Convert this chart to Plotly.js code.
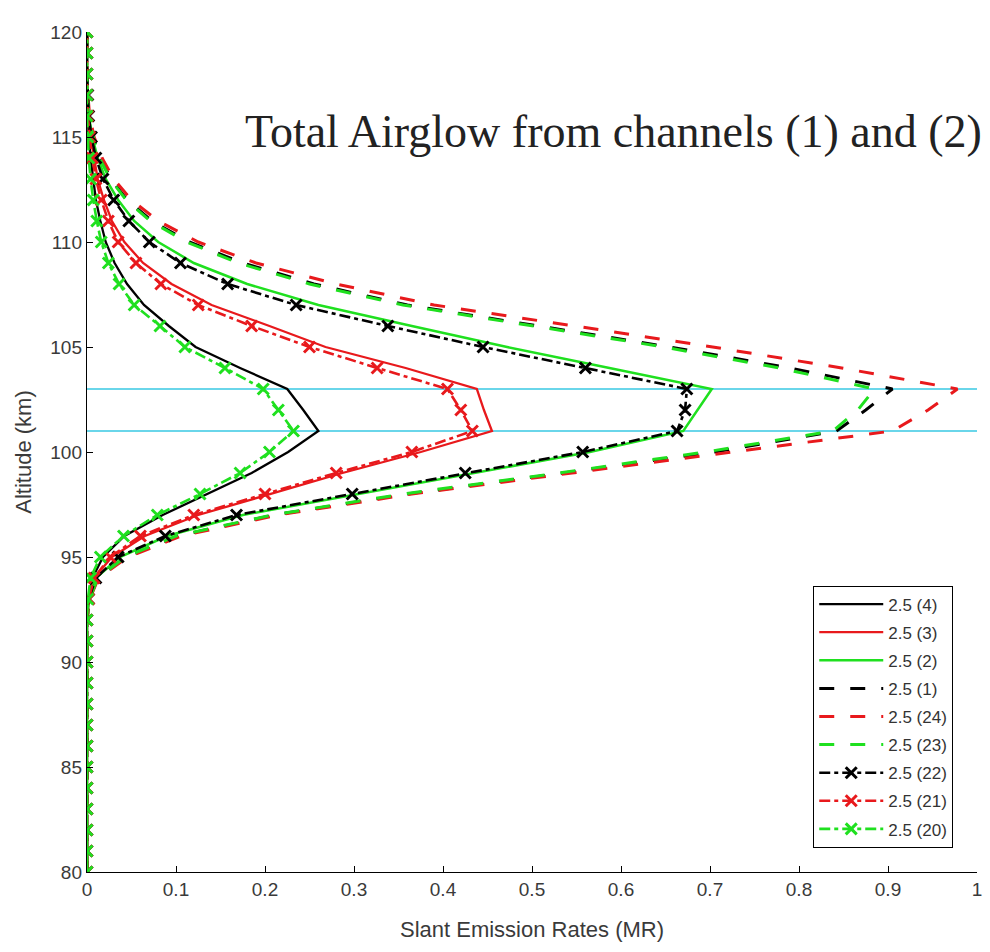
<!DOCTYPE html>
<html>
<head>
<meta charset="utf-8">
<script src="https://cdn.plot.ly/plotly-3.0.1.min.js"></script>
<style>
  html, body { margin: 0; padding: 0; background: #ffffff; }
  #chart { width: 990px; height: 952px; }
</style>
</head>
<body>
<div id="chart"></div>
<script>
// Altitude grid (km)
const altitude = [80, 81, 82, 83, 84, 85, 86, 87, 88, 89, 90, 91, 92,
  93, 94, 95, 96, 97, 98, 99, 100, 101, 102, 103, 104, 105, 106,
  107, 108, 109, 110, 111, 112, 113, 114, 115, 116, 117, 118, 119, 120];

// Slant emission rates (MR) per case, one value per altitude
const rate4 = [0, 0, 0, 0, 0, 0, 0, 0, 0, 0, 0, 0, 0,
  0.002, 0.006, 0.018, 0.042, 0.085, 0.135, 0.185, 0.226, 0.26, 0.243, 0.225, 0.172, 0.122, 0.092,
  0.064, 0.045, 0.031, 0.021, 0.015, 0.01, 0.007, 0.004, 0.002, 0.001, 0, 0, 0, 0];
const rate3 = [0, 0, 0, 0, 0, 0, 0, 0, 0, 0, 0, 0, 0,
  0.002, 0.008, 0.028, 0.065, 0.125, 0.205, 0.287, 0.375, 0.455, 0.446, 0.438, 0.358, 0.268, 0.205,
  0.14, 0.095, 0.063, 0.042, 0.028, 0.019, 0.012, 0.008, 0.004, 0.002, 0.001, 0, 0, 0];
const rate2 = [0, 0, 0, 0, 0, 0, 0, 0, 0, 0, 0, 0, 0,
  0.002, 0.01, 0.037, 0.09, 0.175, 0.305, 0.432, 0.565, 0.67, 0.686, 0.702, 0.587, 0.472, 0.365,
  0.26, 0.18, 0.12, 0.08, 0.053, 0.035, 0.021, 0.012, 0.006, 0.002, 0.001, 0, 0, 0];
const rate1 = [0, 0, 0, 0, 0, 0, 0, 0, 0, 0, 0, 0, 0,
  0.003, 0.012, 0.044, 0.102, 0.21, 0.36, 0.535, 0.705, 0.842, 0.875, 0.905, 0.79, 0.655, 0.505,
  0.36, 0.255, 0.175, 0.115, 0.073, 0.045, 0.027, 0.015, 0.007, 0.002, 0.001, 0, 0, 0];
const rate24 = [0, 0, 0, 0, 0, 0, 0, 0, 0, 0, 0, 0, 0,
  0.003, 0.013, 0.046, 0.106, 0.215, 0.365, 0.545, 0.725, 0.905, 0.945, 0.978, 0.848, 0.703, 0.548,
  0.39, 0.28, 0.19, 0.125, 0.08, 0.05, 0.03, 0.017, 0.008, 0.003, 0.001, 0, 0, 0];
const rate23 = [0, 0, 0, 0, 0, 0, 0, 0, 0, 0, 0, 0, 0,
  0.003, 0.012, 0.043, 0.1, 0.208, 0.355, 0.53, 0.695, 0.838, 0.866, 0.885, 0.778, 0.648, 0.5,
  0.355, 0.25, 0.17, 0.112, 0.071, 0.044, 0.026, 0.014, 0.007, 0.002, 0.001, 0, 0, 0];
const rate22 = [0, 0, 0, 0, 0, 0, 0, 0, 0, 0, 0, 0, 0,
  0.002, 0.01, 0.035, 0.088, 0.168, 0.298, 0.425, 0.557, 0.663, 0.672, 0.674, 0.56, 0.445, 0.338,
  0.235, 0.158, 0.105, 0.07, 0.047, 0.03, 0.018, 0.01, 0.005, 0.002, 0.001, 0, 0, 0];
const rate21 = [0, 0, 0, 0, 0, 0, 0, 0, 0, 0, 0, 0, 0,
  0.002, 0.008, 0.026, 0.06, 0.12, 0.2, 0.28, 0.365, 0.433, 0.42, 0.405, 0.326, 0.25, 0.185,
  0.125, 0.083, 0.055, 0.035, 0.024, 0.016, 0.01, 0.006, 0.003, 0.001, 0, 0, 0, 0];
const rate20 = [0, 0, 0, 0, 0, 0, 0, 0, 0, 0, 0, 0, 0,
  0.001, 0.004, 0.015, 0.041, 0.079, 0.127, 0.172, 0.205, 0.232, 0.215, 0.198, 0.155, 0.11, 0.082,
  0.053, 0.036, 0.024, 0.016, 0.011, 0.007, 0.004, 0.002, 0.001, 0, 0, 0, 0, 0];

// Legend labels, in plotting order
const seriesNames = ['2.5 (4)', '2.5 (3)', '2.5 (2)', '2.5 (1)', '2.5 (24)', '2.5 (23)', '2.5 (22)', '2.5 (21)', '2.5 (20)'];
const seriesRates = [rate4, rate3, rate2, rate1, rate24, rate23, rate22, rate21, rate20];

// Reference altitude band (km) and its horizontal extent (MR)
const bandAltitudes = [103, 101];
const bandSpan = [0, 1];

const BLACK = '#000000';
const RED = '#e8191c';
const GREEN = '#1fe01f';
const CYAN = '#6ad6ea';

const styles = [
  { color: BLACK, dash: 'solid', width: 2.3, marker: false },
  { color: RED, dash: 'solid', width: 2.3, marker: false },
  { color: GREEN, dash: 'solid', width: 2.5, marker: false },
  { color: BLACK, dash: '15px,16px', width: 3, marker: false },
  { color: RED, dash: '15px,16px', width: 3, marker: false },
  { color: GREEN, dash: '15px,16px', width: 3, marker: false },
  { color: BLACK, dash: '11px,4px,4px,4px', width: 2.6, marker: true },
  { color: RED, dash: '11px,4px,4px,4px', width: 2.6, marker: true },
  { color: GREEN, dash: '11px,4px,4px,4px', width: 2.6, marker: true }
];

const traces = [];

// Cyan band lines, underneath the profiles
bandAltitudes.forEach(function (a) {
  traces.push({
    x: bandSpan,
    y: [a, a],
    mode: 'lines',
    line: { color: CYAN, width: 2 },
    showlegend: false,
    hoverinfo: 'skip'
  });
});

seriesNames.forEach(function (name, i) {
  const s = styles[i];
  const t = {
    x: seriesRates[i],
    y: altitude,
    name: name,
    legendgroup: 'g' + i,
    mode: s.marker ? 'lines+markers' : 'lines',
    line: { color: s.color, dash: s.dash, width: s.width }
  };
  if (s.marker) {
    t.marker = { symbol: 'x-thin', size: 11, color: s.color, line: { color: s.color, width: 3 } };
  }
  traces.push(t);
});

const sans = 'Liberation Sans, Arial, sans-serif';
const tickFont = { family: sans, size: 19, color: '#3a3a3a' };

const layout = {
  width: 990,
  height: 952,
  margin: { l: 87, r: 13, t: 32, b: 80 },
  paper_bgcolor: '#ffffff',
  plot_bgcolor: '#ffffff',
  showlegend: true,
  xaxis: {
    range: [0, 1],
    dtick: 0.1,
    tick0: 0,
    ticks: 'inside',
    ticklen: 6,
    tickcolor: '#000',
    showline: true,
    linecolor: '#000',
    linewidth: 1.2,
    mirror: false,
    showgrid: false,
    zeroline: false,
    tickfont: tickFont,
    title: { text: 'Slant Emission Rates (MR)', font: { family: sans, size: 22, color: '#3a3a3a' }, standoff: 22 }
  },
  yaxis: {
    range: [80, 120],
    dtick: 5,
    tick0: 80,
    ticks: 'inside',
    ticklen: 6,
    tickcolor: '#000',
    showline: true,
    linecolor: '#000',
    linewidth: 1.2,
    mirror: false,
    showgrid: false,
    zeroline: false,
    tickfont: tickFont,
    title: { text: 'Altitude (km)', font: { family: sans, size: 22, color: '#3a3a3a' }, standoff: 12 }
  },
  legend: {
    x: 0.816,
    y: 0.341,
    xanchor: 'left',
    yanchor: 'top',
    bgcolor: '#ffffff',
    bordercolor: '#000',
    borderwidth: 1,
    font: { family: sans, size: 17, color: '#333' },
    traceorder: 'grouped',
    tracegroupgap: 3,
    itemwidth: 64
  },
  annotations: [{
    text: 'Total Airglow from channels (1) and (2)',
    xref: 'paper',
    yref: 'paper',
    x: 0.592,
    y: 0.881,
    xanchor: 'center',
    yanchor: 'middle',
    showarrow: false,
    font: { family: 'Liberation Serif, Times New Roman, serif', size: 46, color: '#222' }
  }]
};

Plotly.newPlot('chart', traces, layout, { displayModeBar: false, staticPlot: true });
</script>
</body>
</html>
